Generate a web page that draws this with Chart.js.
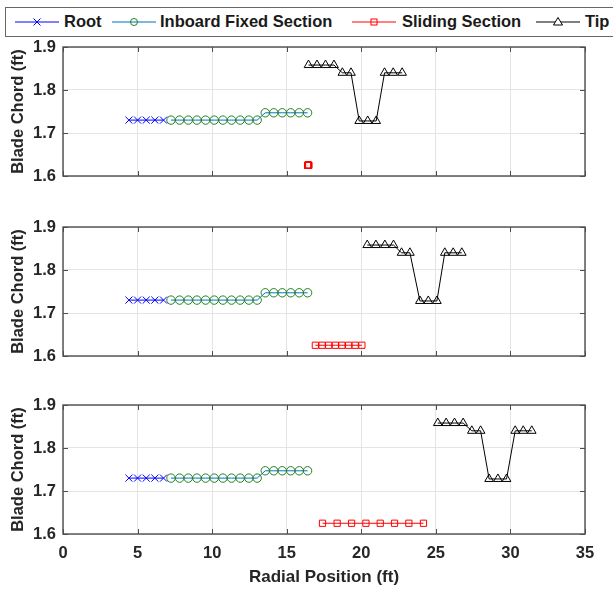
<!DOCTYPE html>
<html>
<head>
<meta charset="utf-8">
<script src="https://cdn.jsdelivr.net/npm/chart.js@4.4.1/dist/chart.umd.min.js"></script>
<style>
    html, body { margin: 0; padding: 0; background: #fff; }
    body { width: 613px; height: 589px; position: relative; overflow: hidden; font-family: "Liberation Sans", Arial, sans-serif; }
    .plot { position: absolute; left: 0; }
    #legend { position: absolute; left: 5px; top: 7px; width: 610px; height: 30px; border: 1px solid #666; box-sizing: border-box; background: #fff; }
    #legend svg { position: absolute; top: 8px; }
    #legend span { position: absolute; top: 4px; font-size: 16.5px; font-weight: bold; color: #1a1a1a; white-space: nowrap; }
</style>
</head>
<body>
<div id="legend">
    <svg style="left:9px" width="44" height="12"><line x1="0" y1="6" x2="44" y2="6" stroke="#0000ff" stroke-width="1"/><path d="M18.5 2.5 L25.5 9.5 M18.5 9.5 L25.5 2.5" stroke="#0000ff" stroke-width="1"/></svg>
    <span style="left:58px">Root</span>
    <svg style="left:106px" width="44" height="12"><line x1="0" y1="6" x2="44" y2="6" stroke="#0072bd" stroke-width="1"/><circle cx="22" cy="6" r="3.5" fill="none" stroke="#208020" stroke-width="1"/></svg>
    <span style="left:154px">Inboard Fixed Section</span>
    <svg style="left:346px" width="44" height="12"><line x1="0" y1="6" x2="44" y2="6" stroke="#ff0000" stroke-width="1"/><rect x="19" y="3" width="6" height="6" fill="none" stroke="#ff0000" stroke-width="1"/></svg>
    <span style="left:396px">Sliding Section</span>
    <svg style="left:530px" width="44" height="12"><line x1="0" y1="6" x2="44" y2="6" stroke="#000" stroke-width="1"/><path d="M22 1.5 L26.5 9 L17.5 9 Z" fill="#fff" stroke="#000" stroke-width="1"/></svg>
    <span style="left:579px">Tip</span>
</div>

<canvas id="c1" class="plot" style="top:29px" width="613" height="165"></canvas>
<canvas id="c2" class="plot" style="top:209px" width="613" height="165"></canvas>
<canvas id="c3" class="plot" style="top:387px" width="613" height="202"></canvas>

<script>
// Radial positions (ft) and blade chord (ft)
const rootX = [4.42, 5.0, 5.58, 6.16, 6.74];
const rootY = [1.73, 1.73, 1.73, 1.73, 1.73];

const inboardX = [7.24, 7.82, 8.4, 8.98, 9.56, 10.14, 10.72, 11.3, 11.88, 12.46, 13.02,
                  13.56, 14.13, 14.7, 15.27, 15.84, 16.4];
const inboardY = [1.73, 1.73, 1.73, 1.73, 1.73, 1.73, 1.73, 1.73, 1.73, 1.73, 1.73,
                  1.747, 1.747, 1.747, 1.747, 1.747, 1.747];

const slidingY = [1.625, 1.625, 1.625, 1.625, 1.625, 1.625, 1.625, 1.625];
const slidingX1 = [16.40, 16.41, 16.42, 16.43, 16.45, 16.46, 16.47, 16.48];
const slidingX2 = [16.92, 17.37, 17.81, 18.26, 18.7, 19.15, 19.59, 20.04];
const slidingX3 = [17.4, 18.38, 19.35, 20.31, 21.27, 22.23, 23.19, 24.17];

const tipY = [1.858, 1.858, 1.858, 1.858, 1.84, 1.84, 1.728, 1.728, 1.728, 1.84, 1.84, 1.84];
const tipX1 = [16.46, 17.03, 17.6, 18.17, 18.73, 19.31, 19.86, 20.43, 21.0, 21.56, 22.14, 22.74];
const tipX2 = [20.4, 20.98, 21.58, 22.16, 22.7, 23.26, 23.93, 24.49, 25.07, 25.6, 26.16, 26.74];
const tipX3 = [25.13, 25.69, 26.25, 26.83, 27.41, 28.0, 28.57, 29.16, 29.74, 30.32, 30.86, 31.43];

const xTicks = [0, 5, 10, 15, 20, 25, 30, 35];
const yTicks = [1.6, 1.7, 1.8, 1.9];

const textColor = '#262626';
const axisColor = '#4d4d4d';

function points(xs, ys) {
    return xs.map((x, i) => ({ x: x, y: ys[i] }));
}

// MATLAB-like box with inward tick marks on all four sides
const boxTicks = {
    id: 'boxTicks',
    afterDraw(chart) {
        const { ctx, chartArea: a, scales } = chart;
        ctx.save();
        ctx.strokeStyle = axisColor;
        ctx.lineWidth = 1;
        ctx.beginPath();
        xTicks.forEach(v => {
            const px = Math.round(scales.x.getPixelForValue(v)) + 0.5;
            ctx.moveTo(px, a.bottom); ctx.lineTo(px, a.bottom - 5);
            ctx.moveTo(px, a.top); ctx.lineTo(px, a.top + 5);
        });
        yTicks.forEach(v => {
            const py = Math.round(scales.y.getPixelForValue(v)) + 0.5;
            ctx.moveTo(a.left, py); ctx.lineTo(a.left + 5, py);
            ctx.moveTo(a.right, py); ctx.lineTo(a.right - 5, py);
        });
        ctx.stroke();
        ctx.lineWidth = 1.4;
        ctx.strokeRect(a.left, a.top, a.right - a.left, a.bottom - a.top);
        ctx.restore();
    }
};

function makePanel(id, slidingX, tipX, bottom) {
    const ctx = document.getElementById(id).getContext('2d');
    new Chart(ctx, {
        type: 'scatter',
        data: {
            datasets: [{
                label: 'Root',
                data: points(rootX, rootY),
                showLine: true,
                borderColor: '#0000ff',
                borderWidth: 1,
                pointStyle: 'crossRot',
                pointRadius: 5,
                pointBorderColor: '#0000ff',
                pointBorderWidth: 1
            }, {
                label: 'Inboard Fixed Section',
                data: points(inboardX, inboardY),
                showLine: true,
                borderColor: '#0072bd',
                borderWidth: 1,
                pointStyle: 'circle',
                pointRadius: 4.2,
                pointBorderColor: '#208020',
                pointBackgroundColor: 'rgba(0,0,0,0)',
                pointBorderWidth: 1
            }, {
                label: 'Sliding Section',
                data: points(slidingX, slidingY),
                showLine: true,
                borderColor: '#ff0000',
                borderWidth: 1,
                pointStyle: 'rect',
                pointRadius: 4.4,
                pointBorderColor: '#ff0000',
                pointBackgroundColor: 'rgba(0,0,0,0)',
                pointBorderWidth: 1
            }, {
                label: 'Tip',
                data: points(tipX, tipY),
                showLine: true,
                borderColor: '#000000',
                borderWidth: 1,
                pointStyle: 'triangle',
                pointRadius: 5,
                pointBorderColor: '#000000',
                pointBackgroundColor: 'rgba(0,0,0,0)',
                pointBorderWidth: 1
            }]
        },
        options: {
            responsive: false,
            animation: false,
            devicePixelRatio: 1,
            layout: {
                padding: { left: 0, right: 28, top: 18, bottom: bottom ? 0 : 18 }
            },
            plugins: {
                legend: { display: false },
                tooltip: { enabled: false }
            },
            scales: {
                x: {
                    type: 'linear',
                    min: 0,
                    max: 35,
                    afterBuildTicks: s => { s.ticks = xTicks.map(v => ({ value: v })); },
                    afterFit: s => { s.height = bottom ? 55 : 0; },
                    grid: { color: '#e4e4e4', lineWidth: 1, drawTicks: false },
                    border: { display: false },
                    ticks: {
                        display: bottom,
                        padding: 10,
                        color: textColor,
                        font: { family: 'Liberation Sans', size: 16.5, weight: 'bold' }
                    },
                    title: {
                        display: bottom,
                        text: 'Radial Position (ft)',
                        color: textColor,
                        padding: { top: 0, bottom: 1 },
                        font: { family: 'Liberation Sans', size: 17, weight: 'bold' }
                    }
                },
                y: {
                    type: 'linear',
                    min: 1.6,
                    max: 1.9,
                    afterBuildTicks: s => { s.ticks = yTicks.map(v => ({ value: v })); },
                    afterFit: s => { s.width = 63; },
                    grid: { color: '#e4e4e4', lineWidth: 1, drawTicks: false },
                    border: { display: false },
                    ticks: {
                        padding: 7,
                        color: textColor,
                        font: { family: 'Liberation Sans', size: 16.5, weight: 'bold' },
                        callback: v => v.toFixed(1)
                    },
                    title: {
                        display: true,
                        text: 'Blade Chord (ft)',
                        color: textColor,
                        padding: { top: 9, bottom: 0 },
                        font: { family: 'Liberation Sans', size: 16.5, weight: 'bold' }
                    }
                }
            }
        },
        plugins: [boxTicks]
    });
}

makePanel('c1', slidingX1, tipX1, false);
makePanel('c2', slidingX2, tipX2, false);
makePanel('c3', slidingX3, tipX3, true);
</script>
</body>
</html>
